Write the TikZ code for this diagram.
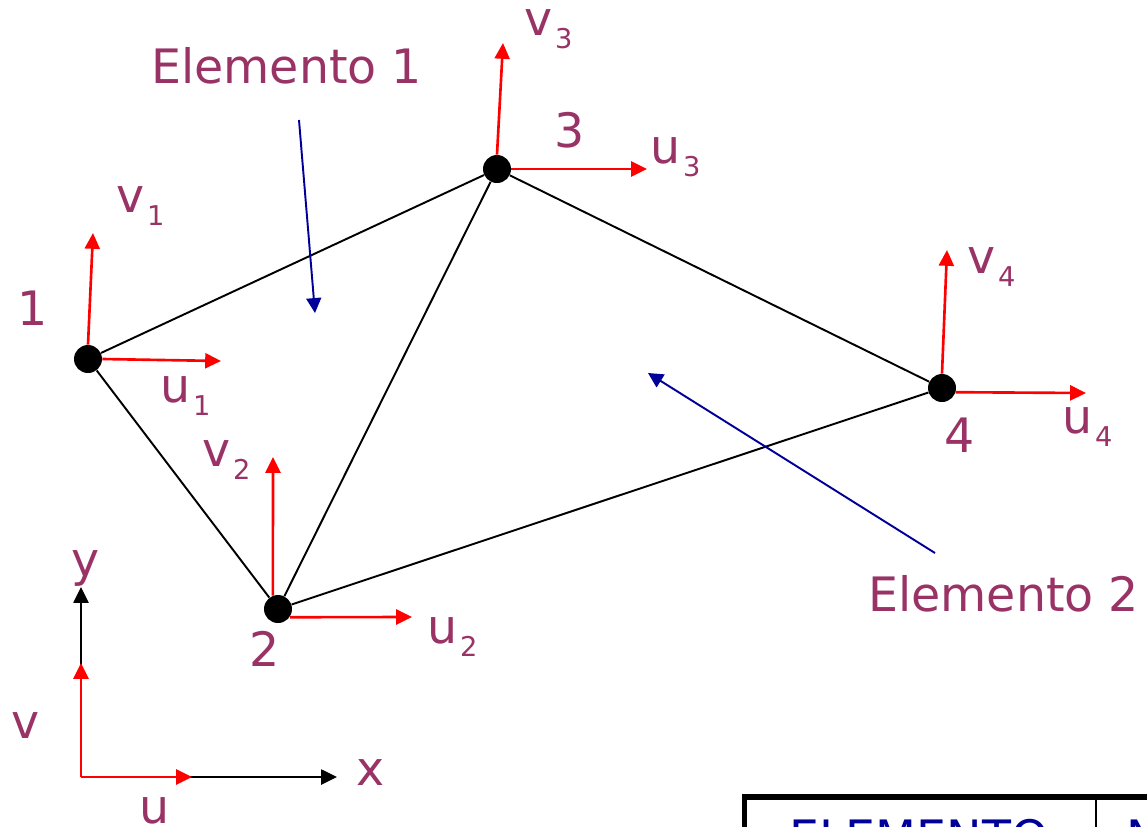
\documentclass[tikz,border=0pt]{standalone}
\usepackage{fontspec}
\setmainfont{DejaVu Sans}
\usetikzlibrary{arrows.meta}
\definecolor{plum}{HTML}{993366}
\definecolor{dispred}{HTML}{FF0000}
\definecolor{navy}{HTML}{000099}

% subscript index, set lower and smaller
\newcommand{\lowidx}[1]{\kern1.5pt\raisebox{-7.4pt}{\fontsize{15.5}{16}\selectfont #1}}

\begin{document}
\begin{tikzpicture}[x=0.02cm, y=-0.02cm,
  >={Triangle[length=9pt, width=8.5pt]},
  lab/.style={text=plum, font=\fontsize{27}{29}\selectfont, inner sep=0pt, anchor=base west},
  joint/.style={circle, fill=black, minimum size=0.56cm, inner sep=0pt},
  member/.style={black, line width=1.1pt},
  disp/.style={dispred, line width=1.5pt, ->},
  axis/.style={black, line width=1.3pt, ->},
  pointer/.style={navy, line width=1.1pt, -{Triangle[length=8.5pt, width=8.5pt]}}]

% Frame
\useasboundingbox (0,0) rectangle (1147,826);
\clip (0,0) rectangle (1147,826);

% Joints
\node[joint] (n1) at (88,359) {};
\node[joint] (n2) at (278,609) {};
\node[joint] (n3) at (497,169) {};
\node[joint] (n4) at (942,388) {};

% Members of the mesh
\draw[member] (n1) -- (n3);
\draw[member] (n1) -- (n2);
\draw[member] (n2) -- (n3);
\draw[member] (n3) -- (n4);
\draw[member] (n2) -- (n4);

% Displacement arrows
\coordinate (v1tip) at (93,233);
\coordinate (u1tip) at (221,361);
\coordinate (v2tip) at (273,457);
\coordinate (u2tip) at (412,617);
\coordinate (v3tip) at (503,43);
\coordinate (u3tip) at (647,169);
\coordinate (v4tip) at (947,250);
\coordinate (u4tip) at (1086,393);
\draw[disp] (n1.north) -- (v1tip);
\draw[disp] (n1.east) -- (u1tip);
\draw[disp] (n2.111) -- (v2tip);
\draw[disp] (n2.-35) -- (u2tip);
\draw[disp] (n3.north) -- (v3tip);
\draw[disp] (n3.east) -- (u3tip);
\draw[disp] (n4.north) -- (v4tip);
\draw[disp] (n4.-17) -- (u4tip);

% Joint numbers and displacement names
\node[lab, anchor=base] (t1) at (33,325) {1};
\node[lab, anchor=base] (t2) at (265,666) {2};
\node[lab, anchor=base] (t3) at (570,147) {3};
\node[lab, anchor=base] (t4) at (960,452) {4};
\node[lab] (lv1) at (116,212) {v\lowidx{1}};
\node[lab] (lu1) at (160,402) {u\lowidx{1}};
\node[lab] (lv2) at (202,466) {v\lowidx{2}};
\node[lab] (lu2) at (427,643) {u\lowidx{2}};
\node[lab] (lv3) at (524,35) {v\lowidx{3}};
\node[lab] (lu3) at (650,163) {u\lowidx{3}};
\node[lab] (lv4) at (967,273) {v\lowidx{4}};
\node[lab] (lu4) at (1062,433) {u\lowidx{4}};

% Element labels and pointers
\node[lab] (el1) at (151,83) {Elemento 1};
\node[lab] (el2) at (868,611) {Elemento 2};
\coordinate (p1from) at (299,120);
\coordinate (p1to) at (315,313);
\coordinate (p2from) at (935,553);
\coordinate (p2to) at (648,373);
\draw[pointer] (p1from) -- (p1to);
\draw[pointer] (p2from) -- (p2to);

% Global axes
\coordinate (orig) at (81,777);
\coordinate (xtip) at (337,777);
\coordinate (ytip) at (81,587);
\coordinate (utip) at (192,777);
\coordinate (vtip) at (81,663);
\draw[axis] (orig) -- (xtip);
\draw[axis] (orig) -- (ytip);
\draw[disp] (orig) -- (utip);
\draw[disp] (orig) -- (vtip);
\node[lab] (lx) at (356,785) {x};
\node[lab] (ly) at (71,576) {y};
\node[lab] (lu) at (139,823) {u};
\node[lab] (lv) at (11,738) {v};

% Table (cut off by the frame)
\draw[black, line width=3.4pt] (744.5,796.5) rectangle (1300,1000);
\draw[black, line width=1.1pt] (1096,796.5) -- (1096,1000);
\node[lab, text=navy] (tcol1) at (789,854) {ELEMENTO};
\node[lab, text=navy] (tcol2) at (1126,854) {N};

\end{tikzpicture}
\end{document}
